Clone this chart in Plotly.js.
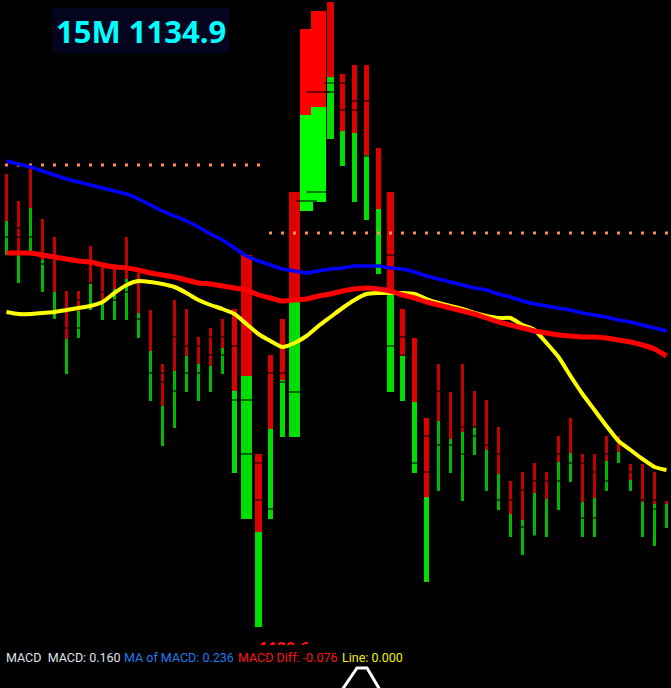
<!DOCTYPE html>
<html><head><meta charset="utf-8">
<script src="https://cdn.plot.ly/plotly-3.0.1.min.js"></script>
<style>html,body{margin:0;padding:0;background:#000;}#chart{width:671px;height:688px;}</style>
</head><body><div id="chart"></div>
<script>
// ---- data (price levels in chart units, one value per 15M bar) ----
const barHigh  = [514,487,519,469,451,397,397,442,424,424,451,415,378,324,388,379,351,360,369,379,433,234,333,369,496,659,677,686,614,623,623,540,496,379,350,270,324,296,324,297,288,261,207,216,225,216,252,270,234,234,252,252,224,224,216,187];
const barSplit = [467,436,480,428,396,349,377,404,384,399,409,375,337,282,317,332,324,322,340,297,312,156,259,308,390,573,581,611,557,555,533,479,393,332,286,191,267,249,256,261,238,214,174,168,195,189,226,235,186,190,227,236,208,186,184,184];
const barLow   = [433,405,433,396,369,314,350,378,368,368,368,350,287,242,260,296,287,296,314,215,169,61,169,251,251,477,486,549,522,486,468,414,296,287,215,106,197,215,187,233,197,178,151,133,152,151,178,206,151,151,197,225,197,151,142,160];
const maBlue     = [527,524,521,517,513,509,506,503,500,497,494,489,483,477,472,467,461,454,448,440,432,427,423,419,417,415,417,419,420,422,422,422,420,419,416,412,409,406,403,400,398,394,391,387,384,382,380,378,375,373,371,368,366,363,360,357];
const maRed      = [435,435,435,433,431,429,427,426,423,421,420,418,415,413,411,408,405,404,402,400,398,393,390,387,388,389,392,394,397,399,400,399,397,393,390,386,383,380,377,374,370,366,363,360,357,355,353,352,351,351,350,348,346,343,339,332];
const lineYellow = [376,374,374,375,376,378,380,382,386,395,403,407,406,404,401,395,388,383,379,374,364,354,347,341,345,352,362,371,380,388,394,395,395,395,394,389,385,382,379,375,372,370,370,363,358,345,331,312,294,278,262,247,238,229,221,218];
const levelUpper = 523, levelUpperEnd = 21;
const levelLower = 455;
const tickBar   = [0,1,1,2,3,5,6,6,7,8,9,9,10,10,11,12,13,13,14,14,15,15,16,16,17,17,18,18,19,19,20,20,21,21,22,22,23,23,24,25,26,26,27,27,28,28,29,29,30,30,32,32,33,33,34,35,35,36,36,37,38,38,39,39,40,41,41,42,43,43,44,44,45,46,46,47,48,48,49,49,50,50,52,53,54,54];
const tickLevel = [451,460,451,451,424,360,388,360,405,396,396,388,405,396,369,315,315,306,351,297,342,315,342,315,351,333,351,333,342,288,288,234,225,188,315,179,315,306,296,487,496,596,596,605,605,578,587,578,587,532,433,342,351,333,225,252,216,297,243,243,261,234,261,252,243,234,188,188,198,161,207,152,207,234,207,225,225,170,216,170,234,207,216,188,188,179];
const titleText = '15M 1134.9';
const lowLabel = '1120.6';
const legendText  = ['MACD  MACD: 0.160', 'MA of MACD: 0.236', 'MACD Diff: -0.076', 'Line: 0.000'];

// ---- styles ----
const W = 671, H = 688;
const barPx = [3,3,3,3,3,3,3,3,3,3,3,3,3,3,3,3,3,3,3, 5,11,7,5,5,11,13,15,7,5,5,5,5,7,5,5,5, 3,3,3,3,3,3,3,3,3,3,3,3,3,3,3,3,3,3,3,3];
const bright = new Set([25,26]);
const idx = barHigh.map((_, i) => i);
const redCol = idx.map(i => bright.has(i) ? '#ff0000' : (barPx[i] > 3 ? '#dd0000' : '#c40000'));
const grnCol = idx.map(i => bright.has(i) ? '#00ff00' : (barPx[i] > 3 ? '#00dd00' : '#00b800'));
const pxPerBar = 12;
const widths = barPx.map(p => p / pxPerBar);

const traces = [
  { type:'bar', x: idx, base: barSplit, y: idx.map(i => barHigh[i] - barSplit[i]), width: widths,
    marker:{color: redCol, line:{width:0}}, hoverinfo:'skip' },
  { type:'bar', x: idx, base: barLow, y: idx.map(i => barSplit[i] - barLow[i]), width: widths,
    marker:{color: grnCol, line:{width:0}}, hoverinfo:'skip' },
  { type:'scatter', mode:'markers', x: tickBar, y: tickLevel,
    marker:{symbol:'line-ew', size: tickBar.map(i => barPx[i] + 2), line:{color:'#000000', width:1.5}}, hoverinfo:'skip' },
  { type:'scatter', mode:'markers', x: idx.filter(i => i <= levelUpperEnd), y: idx.filter(i => i <= levelUpperEnd).map(() => levelUpper),
    marker:{symbol:'square', size:3, color:'#ff8c4c', line:{width:0}}, hoverinfo:'skip' },
  { type:'scatter', mode:'markers', x: idx.filter(i => i > levelUpperEnd), y: idx.filter(i => i > levelUpperEnd).map(() => levelLower),
    marker:{symbol:'square', size:3, color:'#ff8c4c', line:{width:0}}, hoverinfo:'skip' },
  { type:'scatter', mode:'lines', x: idx, y: lineYellow, line:{color:'#ffff00', width:4, shape:'spline', smoothing:0.6}, hoverinfo:'skip' },
  { type:'scatter', mode:'lines', x: idx, y: maRed, line:{color:'#ff0000', width:5, shape:'spline', smoothing:0.6}, hoverinfo:'skip' },
  { type:'scatter', mode:'lines', x: idx, y: maBlue, line:{color:'#0000ff', width:3.5, shape:'spline', smoothing:0.6}, hoverinfo:'skip' },
];

// low price label, clipped by the plot area
const lowIdx = barLow.indexOf(Math.min(...barLow));
traces.push({ type:'scatter', mode:'text', x:[lowIdx], y:[barLow[lowIdx] - 23], text:[lowLabel],
  textposition:'middle right', cliponaxis:true,
  textfont:{family:'Open Sans', size:16, color:'#ff1010', weight:'bold'}, hoverinfo:'skip' });

const fx = px => px / W, fy = py => 1 - py / H;
const legendColors = ['#dde4ee', '#1f7cf0', '#ff1414', '#f2f200'];
const legendX = [4, 122, 236, 340];
const annotations = [
  { xref:'paper', yref:'paper', x: fx(140.5), y: fy(31), xanchor:'center', yanchor:'middle', showarrow:false,
    text: titleText, font:{family:'Open Sans', size:31, color:'#00ffff', weight:'bold'} },
];
legendText.forEach((t, k) => annotations.push({ xref:'paper', yref:'paper', x: fx(legendX[k]), y: fy(657),
  xanchor:'left', yanchor:'middle', showarrow:false, text:t,
  font:{family:'Roboto', size:12.5, color: legendColors[k]} }));

const triPath = `M ${fx(342)} ${fy(690)} L ${fx(357)} ${fy(668)} L ${fx(367)} ${fy(668)} L ${fx(380)} ${fy(690)}`;
const shapes = [
  { type:'rect', xref:'paper', yref:'paper', x0: fx(52), x1: fx(229), y0: fy(53), y1: fy(8),
    fillcolor:'#04041f', line:{width:0}, layer:'above' },
  { type:'path', xref:'paper', yref:'paper', path: triPath, line:{color:'#ffffff', width:3}, layer:'above' },
];

const layout = {
  width: W, height: H, margin:{l:0, r:0, t:0, b:0, pad:0},
  paper_bgcolor:'#000000', plot_bgcolor:'#000000', showlegend:false, barmode:'overlay',
  xaxis:{range:[-6.5/pxPerBar, (W - 6.5)/pxPerBar], visible:false, fixedrange:true},
  yaxis:{domain:[1 - 645/H, 1], range:[H - 645, H], visible:false, fixedrange:true},
  annotations, shapes,
};
Plotly.newPlot('chart', traces, layout, {staticPlot:true, displayModeBar:false});
</script></body></html>
